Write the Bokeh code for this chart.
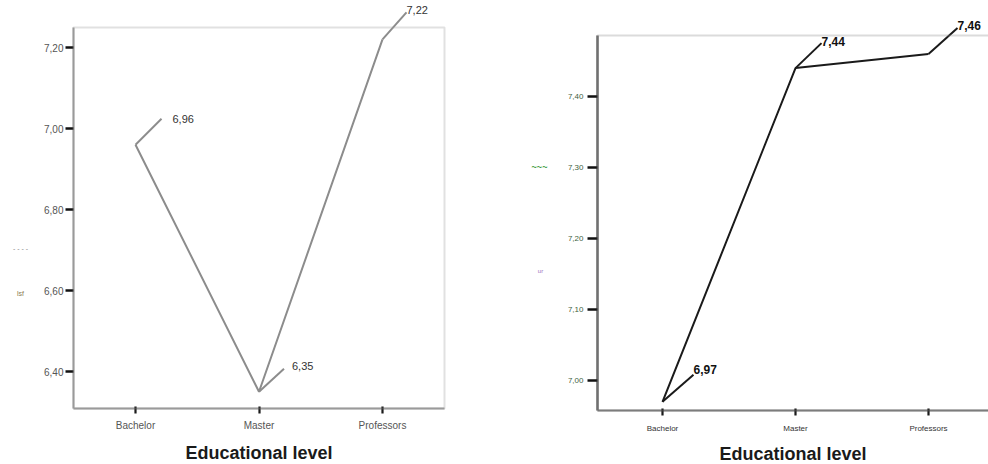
from bokeh.plotting import figure
from bokeh.models import (Range1d, FixedTicker, CustomJSTickFormatter, ColumnDataSource,
                          LabelSet, Label, BoxAnnotation)
from bokeh.core.properties import value
from bokeh.layouts import row
from bokeh.embed import file_html
from bokeh.resources import INLINE

# ---------------- data ----------------
categories = ["Bachelor", "Master", "Professors"]
left_means = [6.96, 6.35, 7.22]
right_means = [6.97, 7.44, 7.46]
left_yticks = [6.40, 6.60, 6.80, 7.00, 7.20]
right_yticks = [7.00, 7.10, 7.20, 7.30, 7.40]
x_title = "Educational level"
left_ytitle_bits = ["- - - -", "lsf"]
right_ytitle_bits = ["~~~", "ur"]

FONT = "Liberation Sans"
xs = list(range(1, len(categories) + 1))
H = 464


def comma(v):
    return f"{v:.2f}".replace(".", ",")


class Frame:
    """pixel <-> data helper for a figure whose frame fills the whole canvas"""
    def __init__(self, width, height, x_anchor, x_anchor_px, ppx, y_anchor, y_anchor_px, ppy):
        self.w, self.h, self.ppx, self.ppy = width, height, ppx, ppy
        self.x0 = x_anchor - x_anchor_px / ppx
        self.x1 = self.x0 + width / ppx
        self.y1 = y_anchor + y_anchor_px / ppy
        self.y0 = self.y1 - height / ppy

    def x(self, px):
        return self.x0 + px / self.ppx

    def y(self, py):
        return self.y1 - py / self.ppy


def make_fig(fr):
    p = figure(width=fr.w, height=fr.h, x_range=Range1d(fr.x0, fr.x1),
               y_range=Range1d(fr.y0, fr.y1), output_backend="svg", toolbar_location=None,
               min_border=0, min_border_left=0, min_border_right=0,
               min_border_top=0, min_border_bottom=0)
    p.xgrid.visible = False
    p.ygrid.visible = False
    p.outline_line_color = None
    p.background_fill_color = "white"
    p.border_fill_color = "white"
    return p


def add_leaders(p, fr, means, off_px, lab_off, color, lw, font_size, text_color, weight):
    src = ColumnDataSource(dict(
        x0=xs, y0=means,
        x1=[x + d[0] / fr.ppx for x, d in zip(xs, off_px)],
        y1=[m + d[1] / fr.ppy for m, d in zip(means, off_px)],
        txt=[comma(m) for m in means],
        xo=[o[0] for o in lab_off], yo=[o[1] for o in lab_off],
    ))
    p.segment(x0="x0", y0="y0", x1="x1", y1="y1", source=src,
              line_color=color, line_width=lw)
    p.add_layout(LabelSet(x="x1", y="y1", text="txt", source=src, x_offset="xo", y_offset="yo",
                          text_font=value(FONT), text_font_size=value(font_size),
                          text_color=value(text_color), text_font_style=value(weight),
                          text_align="left", text_baseline="middle"))


def style_axes(p, yticks, y_loc, x_loc, ybounds, xbounds, ytick_out, ylab_size, ylab_color,
               ylab_standoff, xlab_size, xlab_color, xlab_standoff, title_standoff,
               yline, xline):
    ya = p.yaxis[0]
    ya.fixed_location = y_loc
    ya.bounds = ybounds
    ya.ticker = FixedTicker(ticks=yticks)
    ya.formatter = CustomJSTickFormatter(code="return tick.toFixed(2).replace('.', ',');")
    ya.axis_line_color = yline[0]
    ya.axis_line_width = yline[1]
    ya.major_tick_out = ytick_out
    ya.major_tick_in = 0
    ya.major_tick_line_color = "#111111"
    ya.major_tick_line_width = 2.5
    ya.minor_tick_line_color = None
    ya.major_label_standoff = ylab_standoff
    ya.major_label_text_font = FONT
    ya.major_label_text_font_size = ylab_size
    ya.major_label_text_color = ylab_color

    xa = p.xaxis[0]
    xa.fixed_location = x_loc
    xa.bounds = xbounds
    xa.ticker = FixedTicker(ticks=xs)
    xa.major_label_overrides = {x: c for x, c in zip(xs, categories)}
    xa.axis_line_color = xline[0]
    xa.axis_line_width = xline[1]
    xa.major_tick_out = 5
    xa.major_tick_in = 2
    xa.major_tick_line_color = "#1a1a1a"
    xa.major_tick_line_width = 2.2
    xa.minor_tick_line_color = None
    xa.major_label_standoff = xlab_standoff
    xa.major_label_text_font = FONT
    xa.major_label_text_font_size = xlab_size
    xa.major_label_text_color = xlab_color
    xa.axis_label = x_title
    xa.axis_label_standoff = title_standoff
    xa.axis_label_text_font = FONT
    xa.axis_label_text_font_size = "18px"
    xa.axis_label_text_font_style = "bold"
    xa.axis_label_text_color = "#1a1a1a"


# ---------------- left panel ----------------
f1 = Frame(500, H, 1, 135, 123.5, 7.0, 128, 405)
p1 = make_fig(f1)
box1 = dict(left=f1.x(73), right=f1.x(444), top=f1.y(27), bottom=f1.y(408))
p1.add_layout(BoxAnnotation(fill_color=None, line_color="#9a9a9a", line_width=2, **box1))

p1.line(xs, left_means, line_color="#8c8c8c", line_width=2)
add_leaders(p1, f1, left_means, off_px=[(26, 26), (25, 23), (24, 27)],
            lab_off=[(11, 0), (8, 3), (0, 2)], color="#8c8c8c", lw=2,
            font_size="11px", text_color="#333333", weight="normal")

style_axes(p1, left_yticks, box1["left"], box1["bottom"],
           (box1["bottom"], box1["top"]), (box1["left"], box1["right"]),
           ytick_out=8, ylab_size="10px", ylab_color="#555555", ylab_standoff=2,
           xlab_size="10px", xlab_color="#555555", xlab_standoff=6, title_standoff=9,
           yline=("#9a9a9a", 2), xline=("#9a9a9a", 2))

p1.add_layout(Label(x=f1.x(20), y=f1.y(248), text=left_ytitle_bits[0],
                    text_font=FONT, text_font_size="7px", text_color="#8a8a8a",
                    text_align="center", text_baseline="middle"))
p1.add_layout(Label(x=f1.x(20), y=f1.y(293), text=left_ytitle_bits[1],
                    text_font=FONT, text_font_size="7px", text_color="#8a7a50",
                    text_align="center", text_baseline="middle"))

# ---------------- right panel ----------------
f2 = Frame(488, H, 1, 162, 133, 7.0, 380, 710)
p2 = make_fig(f2)
box2 = dict(left=f2.x(97), right=f2.x(530), top=f2.y(35), bottom=f2.y(410))
p2.add_layout(BoxAnnotation(fill_color=None, line_color="#888888", line_width=2, **box2))

p2.line(xs, right_means, line_color="#1a1a1a", line_width=2)
add_leaders(p2, f2, right_means, off_px=[(31, 27), (26, 25), (29, 26)],
            lab_off=[(0, 5), (0, 2), (0, 2)], color="#1a1a1a", lw=2,
            font_size="12px", text_color="#111111", weight="bold")

style_axes(p2, right_yticks, box2["left"], box2["bottom"],
           (box2["bottom"], box2["top"]), (box2["left"], box2["right"]),
           ytick_out=10, ylab_size="8px", ylab_color="#3f5f3f", ylab_standoff=4,
           xlab_size="8px", xlab_color="#333333", xlab_standoff=8, title_standoff=8,
           yline=("#666666", 2.5), xline=("#777777", 2))

p2.add_layout(Label(x=f2.x(39), y=f2.y(166), text=right_ytitle_bits[0],
                    text_font=FONT, text_font_size="9px", text_color="#3a9a3a",
                    text_font_style="bold", text_align="center", text_baseline="middle"))
p2.add_layout(Label(x=f2.x(40), y=f2.y(270), text=right_ytitle_bits[1],
                    text_font=FONT, text_font_size="6px", text_color="#9a70c0",
                    text_align="center", text_baseline="middle"))

layout = row(p1, p2)
open("out.html", "w").write(file_html(layout, INLINE))
